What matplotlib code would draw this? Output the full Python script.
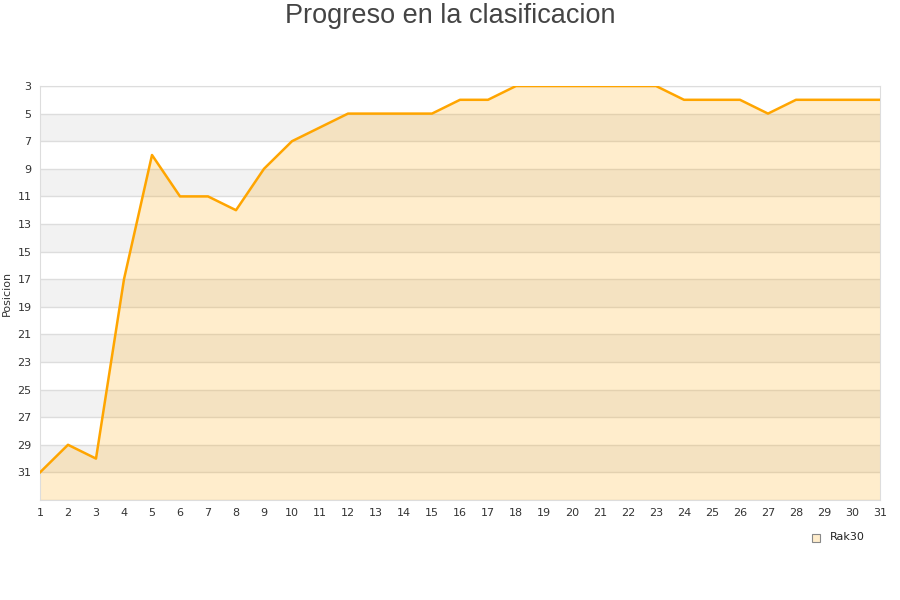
import numpy as np
import matplotlib.pyplot as plt

jornadas = list(range(1, 32))
posicion = [31, 29, 30, 17, 8, 11, 11, 12, 9, 7, 6, 5, 5, 5, 5, 4, 4,
            3, 3, 3, 3, 3, 3, 4, 4, 4, 5, 4, 4, 4, 4]
equipo = 'Rak30'
yticks = list(range(3, 32, 2))

fig = plt.figure(figsize=(9, 6), dpi=100)
ax = fig.add_axes([40/900, 100/600, 840/900, 414/600])

# bandas alternas
for i, y0 in enumerate(range(3, 33, 2)):
    if i % 2 == 1:
        ax.axhspan(y0, y0 + 2, color='#f2f2f2', zorder=0, lw=0)
for y0 in range(3, 34, 2):
    ax.axhline(y0, color='#dddddd', lw=1, zorder=1)

ax.fill_between(jornadas, posicion, 33, color='#ffa500', alpha=0.2, lw=0, zorder=2)
ax.plot(jornadas, posicion, color='#ffa500', lw=1.8, zorder=3)

ax.set_xlim(1, 31)
ax.set_ylim(33, 3)
ax.set_xticks(jornadas)
ax.set_yticks(yticks)
ax.tick_params(length=0, labelsize=8, colors='#333333', pad=6)
for s in ax.spines.values():
    s.set_color('#dddddd')
ax.set_ylabel('Posicion', fontsize=8, color='#333333', labelpad=4)

fig.text(0.5, 1 - 16/600, 'Progreso en la clasificacion', ha='center', va='center',
         fontsize=19.5, color='#444444', family='Liberation Sans')

# leyenda
fig.patches.append(plt.Rectangle((812/900, 1 - 542/600), 8/900, 8/600,
                                 transform=fig.transFigure, facecolor='#ffedcc',
                                 edgecolor='#888888', lw=0.8))
fig.text(830/900, 1 - 537/600, equipo, fontsize=8, color='#222222', va='center')

fig.savefig('out.png')
